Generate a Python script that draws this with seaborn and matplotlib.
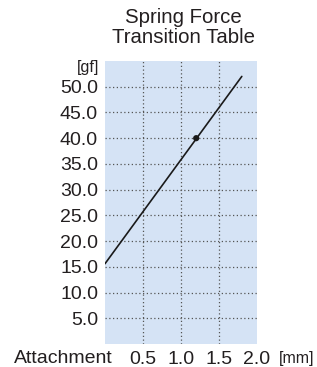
import matplotlib
matplotlib.use("Agg")
import matplotlib.pyplot as plt
import seaborn as sns
import pandas as pd

# datos
stroke_mm = [0.0, 1.8]
force_gf = [15.6, 52.0]
attach_mm = [1.2]
attach_gf = [40.0]
x_ticks = [0.5, 1.0, 1.5, 2.0]
y_ticks = [5.0, 10.0, 15.0, 20.0, 25.0, 30.0, 35.0, 40.0, 45.0, 50.0]

sns.set_style("white")
plt.rcParams['font.family'] = ['Liberation Sans', 'DejaVu Sans']
txt = "#231f20"

fig = plt.figure(figsize=(3.17, 3.67), dpi=100)
ax = fig.add_axes([0.3312, 0.0627, 0.4795, 0.7711])
ax.set_facecolor("#d5e3f5")

df = pd.DataFrame({"x": stroke_mm, "y": force_gf})
sns.lineplot(data=df, x="x", y="y", ax=ax, color="#1a1a1a", linewidth=1.2)
sns.scatterplot(x=attach_mm, y=attach_gf, ax=ax, color="#1a1a1a", s=20,
                marker="o", edgecolor="none", zorder=5)

ax.set_xlim(0, 2.0)
ax.set_ylim(0, 55)
ax.set_xticks(x_ticks)
ax.set_yticks(y_ticks)
ax.set_xticklabels([f"{v:.1f}" for v in x_ticks])
ax.set_yticklabels([f"{v:.1f}" for v in y_ticks])
ax.tick_params(length=0, labelsize=14, colors=txt, pad=5)
ax.set_xlabel("")
ax.set_ylabel("")

for v in x_ticks[:-1]:
    ax.axvline(v, color="#555555", linestyle=(0, (1, 2)), linewidth=0.9, zorder=1)
for v in y_ticks:
    ax.axhline(v, color="#555555", linestyle=(0, (1, 2)), linewidth=0.9, zorder=1)

for s in ax.spines.values():
    s.set_visible(False)

fig.text(183.5 / 317, 1 - 8 / 367, "Spring Force\nTransition Table", ha="center", va="top",
         fontsize=14.7, color=txt, linespacing=1.05)
fig.text(99 / 317, 1 - 60 / 367, "[gf]", ha="right", va="top", fontsize=11.5, color=txt)
fig.text(14 / 317, 1 - 363 / 367, "Attachment", ha="left", va="baseline", fontsize=14, color=txt)
fig.text(279 / 317, 1 - 363 / 367, "[mm]", ha="left", va="baseline", fontsize=11.5, color=txt)

fig.savefig("out.png", dpi=100)
plt.close(fig)
